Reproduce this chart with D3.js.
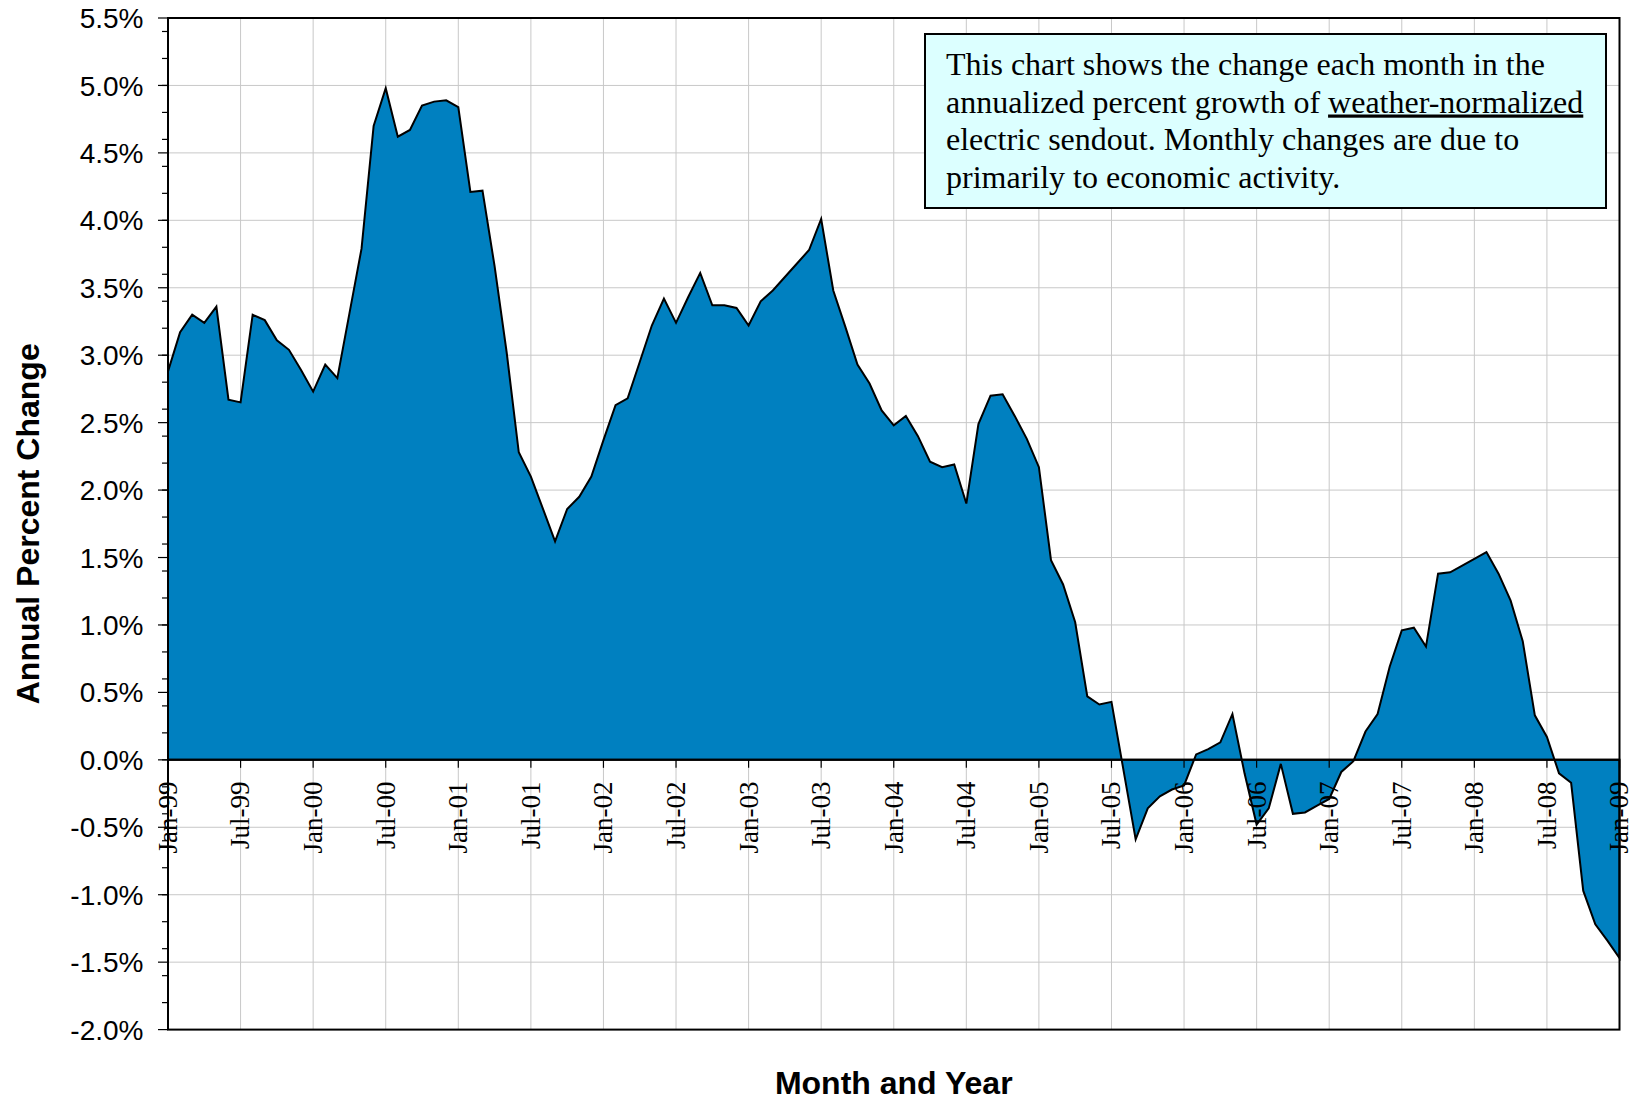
<!DOCTYPE html>
<html><head><meta charset="utf-8">
<script src="https://cdn.jsdelivr.net/npm/d3@7"></script>
<style>body{margin:0;background:#fff} svg{display:block}</style>
</head><body>
<svg id="c" width="1635" height="1100"></svg>
<script>
// ---- data ----
const startDate = [1999, 0]; // Jan-99, monthly series
const values = [
  2.88, 3.17, 3.30, 3.24, 3.36, 2.67, 2.65, 3.30, 3.26, 3.11, 3.04, 2.89,
  2.73, 2.93, 2.83, 3.31, 3.79, 4.70, 4.98, 4.62, 4.67, 4.85, 4.88, 4.89,
  4.84, 4.21, 4.22, 3.66, 3.02, 2.28, 2.10, 1.86, 1.62, 1.86, 1.95, 2.10,
  2.37, 2.63, 2.68, 2.95, 3.22, 3.42, 3.24, 3.43, 3.61, 3.37, 3.37, 3.35,
  3.22, 3.40, 3.48, 3.58, 3.68, 3.78, 4.01, 3.48, 3.21, 2.93, 2.79, 2.59,
  2.48, 2.55, 2.40, 2.21, 2.17, 2.19, 1.90, 2.49, 2.70, 2.71, 2.55, 2.38,
  2.17, 1.48, 1.30, 1.02, 0.47, 0.41, 0.43, -0.08, -0.59, -0.36, -0.27, -0.22,
  -0.19, 0.04, 0.08, 0.13, 0.34, -0.10, -0.48, -0.36, -0.03, -0.40, -0.39, -0.34,
  -0.29, -0.09, -0.01, 0.21, 0.34, 0.69, 0.96, 0.98, 0.84, 1.38, 1.39, 1.44,
  1.49, 1.54, 1.38, 1.18, 0.88, 0.33, 0.17, -0.10, -0.17, -0.97, -1.22, -1.34,
  -1.47
];
const xTickLabels = ["Jan-99","Jul-99","Jan-00","Jul-00","Jan-01","Jul-01","Jan-02","Jul-02",
  "Jan-03","Jul-03","Jan-04","Jul-04","Jan-05","Jul-05","Jan-06","Jul-06","Jan-07","Jul-07",
  "Jan-08","Jul-08","Jan-09"];
const xTickStep = 6; // months between labels
const yMajorTicks = [-2.0,-1.5,-1.0,-0.5,0.0,0.5,1.0,1.5,2.0,2.5,3.0,3.5,4.0,4.5,5.0,5.5];
const yMinorTicks = [-1.8,-1.6,-1.4,-1.2,-1.0,-0.8,-0.6,-0.4,-0.2,0.0,0.2,0.4,0.6,0.8,1.0,1.2,1.4,1.6,1.8,
  2.0,2.2,2.4,2.6,2.8,3.0,3.2,3.4,3.6,3.8,4.0,4.2,4.4,4.6,4.8,5.0,5.2,5.4];
const yTitle = "Annual Percent Change";
const xTitle = "Month and Year";
const noteLines = [
  [{t:"This chart shows the change each month in the"}],
  [{t:"annualized percent growth of "},{t:"weather-normalized", u:true}],
  [{t:"electric sendout. Monthly changes are due to"}],
  [{t:"primarily to economic activity."}]
];

// ---- layout ----
const svg = d3.select("#c");
const L = 168, R = 1619.5, T = 18, B = 1029.6;
const x = d3.scaleLinear().domain([0, values.length - 1]).range([L, R]);
const y = d3.scaleLinear().domain([-2, 5.5]).range([B, T]);
const gridColor = "#c8c8c8";

// gridlines
const xTickIdx = xTickLabels.map((d, i) => i * xTickStep);
svg.append("g").selectAll("line.hg").data(yMajorTicks).join("line")
  .attr("x1", L).attr("x2", R).attr("y1", d => y(d)).attr("y2", d => y(d))
  .attr("stroke", gridColor).attr("stroke-width", 1);
svg.append("g").selectAll("line.vg").data(xTickIdx).join("line")
  .attr("x1", d => x(d)).attr("x2", d => x(d)).attr("y1", T).attr("y2", B)
  .attr("stroke", gridColor).attr("stroke-width", 1);

// area
const area = d3.area().x((d, i) => x(i)).y0(y(0)).y1(d => y(d));
svg.append("path").datum(values).attr("d", area)
  .attr("fill", "#0080c0").attr("stroke", "#000").attr("stroke-width", 2)
  .attr("stroke-linejoin", "miter");

// zero axis line
svg.append("line").attr("x1", L).attr("x2", R).attr("y1", y(0)).attr("y2", y(0))
  .attr("stroke", "#000").attr("stroke-width", 2);

// x ticks (down from zero line)
svg.append("g").selectAll("line").data(xTickIdx).join("line")
  .attr("x1", d => x(d)).attr("x2", d => x(d)).attr("y1", y(0)).attr("y2", y(0) + 8)
  .attr("stroke", "#000").attr("stroke-width", 1.2);

// plot border
svg.append("rect").attr("x", L).attr("y", T).attr("width", R - L).attr("height", B - T)
  .attr("fill", "none").attr("stroke", "#000").attr("stroke-width", 2);

// y axis ticks
svg.append("g").selectAll("line").data(yMinorTicks).join("line")
  .attr("x1", L - 6).attr("x2", L).attr("y1", d => y(d)).attr("y2", d => y(d))
  .attr("stroke", "#000").attr("stroke-width", 1.2);
svg.append("g").selectAll("line").data(yMajorTicks).join("line")
  .attr("x1", L - 10).attr("x2", L).attr("y1", d => y(d)).attr("y2", d => y(d))
  .attr("stroke", "#000").attr("stroke-width", 1.2);

// y labels
svg.append("g").selectAll("text").data(yMajorTicks).join("text")
  .attr("x", 143.5).attr("y", d => y(d)).attr("dy", "0.36em")
  .attr("text-anchor", "end")
  .attr("font-family", "'Liberation Sans', Arial, sans-serif").attr("font-size", 28)
  .attr("fill", "#000")
  .text(d => d.toFixed(1) + "%");

// x labels (rotated)
svg.append("g").selectAll("text").data(xTickLabels).join("text")
  .attr("transform", (d, i) => `translate(${x(i * xTickStep)},781.5) rotate(-90)`)
  .attr("dy", "0.33em")
  .attr("text-anchor", "end")
  .attr("font-family", "'Liberation Serif', 'Times New Roman', serif").attr("font-size", 27)
  .attr("fill", "#000")
  .text(d => d);

// axis titles
svg.append("text").attr("x", (L + R) / 2).attr("y", 1094)
  .attr("text-anchor", "middle")
  .attr("font-family", "'Liberation Sans', Arial, sans-serif").attr("font-size", 32).attr("font-weight", "bold")
  .text(xTitle);
svg.append("text").attr("transform", `translate(38.5,${(T + B) / 2}) rotate(-90)`)
  .attr("text-anchor", "middle")
  .attr("font-family", "'Liberation Sans', Arial, sans-serif").attr("font-size", 32).attr("font-weight", "bold")
  .text(yTitle);

// note box
const box = svg.append("g");
box.append("rect").attr("x", 925).attr("y", 34).attr("width", 681).attr("height", 174)
  .attr("fill", "#dcffff").attr("stroke", "#000").attr("stroke-width", 2);
const baselines = [74.7, 112.5, 150.3, 188.1];
noteLines.forEach((ln, k) => {
  const t = box.append("text").attr("x", 946).attr("y", baselines[k])
    .attr("font-family", "'Liberation Serif', 'Times New Roman', serif").attr("font-size", 32)
    .attr("fill", "#000");
  ln.forEach(seg => {
    const s = t.append("tspan").text(seg.t);
    if (seg.u) s.attr("text-decoration", "underline");
  });
});
</script>
</body></html>
